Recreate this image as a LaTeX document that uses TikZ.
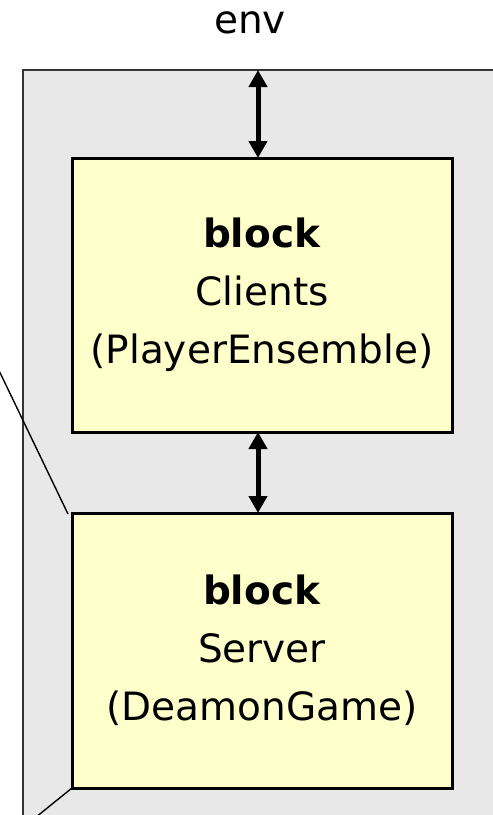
\documentclass[tikz,border=0pt]{standalone}
\usepackage{fontspec}
\setmainfont{DejaVu Sans}
\usepackage{tikz}
\usetikzlibrary{arrows.meta, positioning, calc}
\definecolor{envgray}{HTML}{E8E8E8}
\definecolor{blockyellow}{HTML}{FFFFCC}

\tikzset{
  blockbox/.style={draw=black, fill=blockyellow, line width=3pt, inner sep=0pt,
        outer sep=0pt, minimum width=380pt, align=center,
        font=\fontsize{39}{58}\selectfont},
  link/.style={line width=5pt, {Triangle[width=18pt,length=17pt]}-{Triangle[width=18pt,length=17pt]}},
  zoomline/.style={line width=1.4pt, black}
}

\begin{document}
\begin{tikzpicture}[x=1pt, y=-1pt]
  \clip (0,0) rectangle (493,815);
  \fill[white] (0,0) rectangle (493,815);

  % environment frame, running off the page
  \node[draw=black!80, fill=envgray, line width=2.2pt, inner sep=0pt, outer sep=0pt,
        minimum width=497pt, minimum height=770pt] (envbox) at (271.5,455) {};
  \node[anchor=base, font=\fontsize{39}{46}\selectfont] (envlabel) at (250,33) {env};

  % the two blocks
  \node[blockbox, minimum height=274pt] (clients) at (262,295)
    {\textbf{block}\\Clients\\(PlayerEnsemble)};
  \node[blockbox, minimum height=275pt] (server) at (262,650.5)
    {\textbf{block}\\Server\\(DeamonGame)};

  % connections
  \draw[link] ([xshift=-4pt]clients.north |- envbox.north) -- ([xshift=-4pt]clients.north);
  \draw[link] ([xshift=-4pt]clients.south) -- ([xshift=-4pt]server.north);

  % zoom lines
  \coordinate (zoomtop) at (-20,331);
  \coordinate (zoombot) at (20,830);
  \draw[zoomline] (zoomtop) -- ([xshift=-4pt,yshift=-1pt]server.north west);
  \draw[zoomline] (server.south west) -- (zoombot);
\end{tikzpicture}
\end{document}
